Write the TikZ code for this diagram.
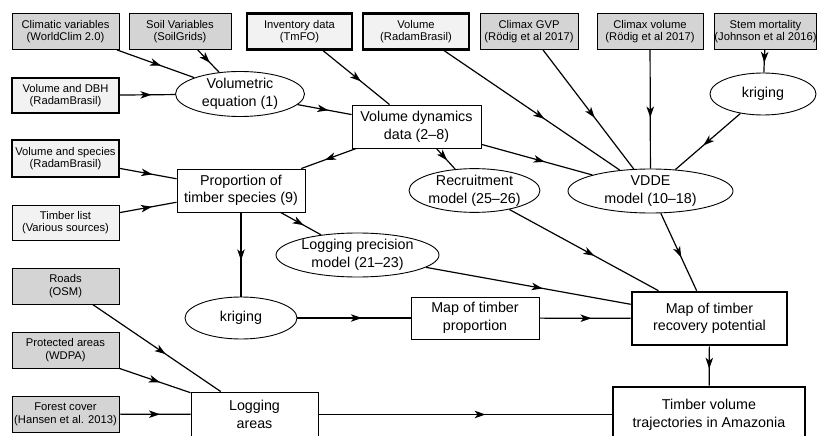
\documentclass[tikz,border=0pt]{standalone}
\usepackage{fontspec}
\setmainfont{Liberation Sans}
\usetikzlibrary{shapes.geometric,arrows.meta,decorations.markings}
\definecolor{srcgray}{RGB}{212,212,212}
\definecolor{srclight}{RGB}{242,242,242}
\newcommand{\smallfnt}{\fontsize{11.2}{12.7}\selectfont}
\newcommand{\bigfnt}{\fontsize{14.3}{17.6}\selectfont}

\begin{document}
\begin{tikzpicture}[x=1pt, y=-1pt,
  every node/.style={align=center, inner sep=0pt},
  srcbox/.style={draw, line width=0.9pt, fill=srcgray, minimum width=107, minimum height=36, font=\smallfnt},
  databox/.style={srcbox, fill=srclight, line width=2.4pt},
  procbox/.style={draw, line width=0.9pt, fill=white, font=\bigfnt},
  model/.style={procbox, ellipse},
  resultbox/.style={procbox, line width=2.6pt},
  link/.style={line width=1.2pt, postaction={decorate},
    decoration={markings, mark=at position 0.57 with {\arrow{Stealth[length=11pt,width=7.5pt,inset=3pt]}}}}]
  \useasboundingbox (0,0) rectangle (817,436);
  % top row sources
  \node[srcbox] (clim) at (65.5,31.5) {Climatic variables\\(WorldClim 2.0)};
  \node[srcbox, minimum width=102] (soil) at (180,31.5) {Soil Variables\\(SoilGrids)};
  \node[databox, minimum width=105] (inv) at (299.5,31.5) {Inventory data\\(TmFO)};
  \node[databox, minimum width=106] (volrad) at (416,31.5) {Volume\\(RadamBrasil)};
  \node[srcbox, minimum width=98] (gvp) at (529,31.5) {Climax GVP\\(Rödig et al 2017)};
  \node[srcbox, minimum width=106] (climvol) at (650,31.5) {Climax volume\\(Rödig et al 2017)};
  \node[srcbox, minimum width=101] (mort) at (765.5,31.5) {Stem mortality\\(Johnson et al 2016)};
  % left column sources
  \node[databox, minimum height=35] (dbh) at (65.5,95.5) {Volume and DBH\\(RadamBrasil)};
  \node[databox, minimum height=37] (spec) at (65.5,158.5) {Volume and species\\(RadamBrasil)};
  \node[srcbox, fill=srclight, minimum height=35] (tlist) at (65.5,222.5) {Timber list\\(Various sources)};
  \node[srcbox] (roads) at (65.5,286) {Roads\\(OSM)};
  \node[srcbox] (prot) at (65.5,350) {Protected areas\\(WDPA)};
  \node[srcbox] (forest) at (65.5,414) {Forest cover\\(Hansen et al. 2013)};
  % models and processing
  \node[model, minimum width=129, minimum height=45] (voleq) at (240,94) {Volumetric\\equation (1)};
  \node[procbox, minimum width=129, minimum height=43] (voldyn) at (416.5,126.5) {Volume dynamics\\data (2--8)};
  \node[model, minimum width=106, minimum height=42] (krigr) at (763,94) {kriging};
  \node[procbox, minimum width=128, minimum height=43] (prop) at (241,190.5) {Proportion of\\timber species (9)};
  \node[model, minimum width=131, minimum height=43] (recr) at (474.5,190.5) {Recruitment\\model (25--26)};
  \node[model, minimum width=165, minimum height=44] (vdde) at (650.5,191) {VDDE\\model (10--18)};
  \node[model, minimum width=163, minimum height=44] (logp) at (357.5,255) {Logging precision\\model (21--23)};
  \node[model, minimum width=112, minimum height=42] (krigl) at (241,318) {kriging};
  \node[procbox, minimum width=128, minimum height=42] (mapprop) at (475,318) {Map of timber\\proportion};
  \node[procbox, minimum width=127, minimum height=45] (logar) at (254.5,414.5) {Logging\\areas};
  % results
  \node[resultbox, minimum width=155, minimum height=53] (maprec) at (709.5,318.5) {Map of timber\\recovery potential};
  \node[resultbox, minimum width=192, minimum height=55] (traj) at (709,414.5) {Timber volume\\trajectories in Amazonia};
  % volumetric equation
  \draw[link] (clim) -- (voleq);
  \draw[link] (soil) -- (voleq);
  \draw[link] (dbh) -- (voleq);
  \draw[link] (voleq) -- (voldyn);
  \draw[link] (inv) -- (voldyn);
  % vdde inputs
  \draw[link] (volrad) -- (vdde);
  \draw[link] (gvp) -- (vdde);
  \draw[link] (climvol) -- (vdde);
  \draw[link] (mort) -- (krigr);
  \draw[link] (krigr) -- (vdde);
  \draw[link] (voldyn) -- (vdde);
  \draw[link] (voldyn) -- (recr);
  % timber proportion
  \draw[link] (voldyn) -- (prop);
  \draw[link] (spec) -- (prop);
  \draw[link] (tlist) -- (prop);
  \draw[link] (prop) -- (logp);
  \draw[link] (prop) -- (krigl);
  \draw[link] (krigl) -- (mapprop);
  % recovery potential
  \draw[link] (mapprop) -- (maprec);
  \draw[link] (logp) -- (maprec);
  \draw[link] (recr) -- (maprec);
  \draw[link] (vdde) -- (maprec);
  \draw[link] (maprec) -- (traj);
  % logging areas
  \draw[link] (roads) -- (logar);
  \draw[link] (prot) -- (logar);
  \draw[link] (forest) -- (logar);
  \draw[link] (logar) -- (traj);
\end{tikzpicture}
\end{document}
